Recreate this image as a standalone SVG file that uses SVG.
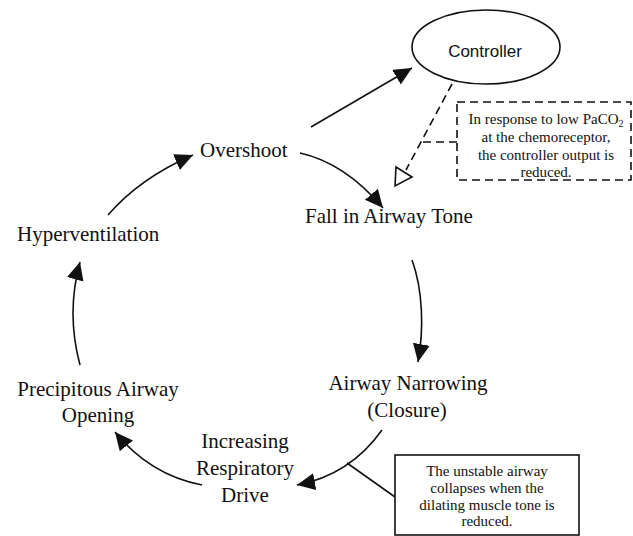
<svg xmlns="http://www.w3.org/2000/svg" width="633" height="536" viewBox="0 0 633 536">
<style>
.lbl{font-family:"Liberation Serif","Times New Roman",serif;font-size:21px;fill:#111}
.sm{font-family:"Liberation Serif","Times New Roman",serif;font-size:15px;fill:#111;text-anchor:middle}
.ln{fill:none;stroke:#111;stroke-width:1.6}
.dash{fill:none;stroke:#111;stroke-width:1.6;stroke-dasharray:8 5}
</style>
<defs>
<marker id="ah" markerUnits="userSpaceOnUse" markerWidth="20" markerHeight="20" refX="18" refY="8.5" orient="auto">
<path d="M0,0 L18,8.5 L0,17 Z" fill="#111"/>
</marker>
</defs>
<rect width="633" height="536" fill="#fff"/>
<g id="connectors">
<path class="ln" d="M108,215 Q140,178 193,155" marker-end="url(#ah)"/>
<path class="ln" d="M311,127 L412,68" marker-end="url(#ah)"/>
<path class="ln" d="M300,153 Q345,163 383,208" marker-end="url(#ah)"/>
<path class="ln" d="M412,260 C423,290 424,330 418,362" marker-end="url(#ah)"/>
<path class="ln" d="M382,430 Q350,475 297,485" marker-end="url(#ah)"/>
<path class="ln" d="M202,485 Q150,475 115,432" marker-end="url(#ah)"/>
<path class="ln" d="M80,365 Q66,313 80,262" marker-end="url(#ah)"/>
<path class="dash" d="M452,84 L406,170"/>
<polygon points="396,167 412,177 395,186" fill="#fff" stroke="#111" stroke-width="1.6"/>
<path class="dash" d="M423,142 L457,142"/>
<path class="ln" d="M347,463 L395,497"/>
</g>
<g id="controller">
<ellipse cx="486" cy="47" rx="74" ry="37" fill="#fff" stroke="#111" stroke-width="1.6"/>
<text x="485" y="57" font-family="Liberation Sans, Arial, sans-serif" font-size="17" fill="#111" text-anchor="middle">Controller</text>
</g>
<g id="note-controller">
<rect class="dash" x="457" y="102" width="174" height="78"/>
<text class="sm" x="546" y="124">In response to low PaCO<tspan font-size="10" dy="3">2</tspan></text>
<text class="sm" x="546" y="142">at the chemoreceptor,</text>
<text class="sm" x="546" y="160">the controller output is</text>
<text class="sm" x="546" y="177">reduced.</text>
</g>
<g id="overshoot"><text class="lbl" x="200" y="157">Overshoot</text></g>
<g id="hyperventilation"><text class="lbl" x="17" y="241">Hyperventilation</text></g>
<g id="fall"><text class="lbl" x="305" y="223">Fall in Airway Tone</text></g>
<g id="narrowing">
<text class="lbl" x="408" y="390" text-anchor="middle">Airway Narrowing</text>
<text class="lbl" x="407" y="417" text-anchor="middle" font-size="18">(Closure)</text>
</g>
<g id="precipitous">
<text class="lbl" x="98" y="396" text-anchor="middle">Precipitous Airway</text>
<text class="lbl" x="98" y="422" text-anchor="middle">Opening</text>
</g>
<g id="drive">
<text class="lbl" x="245" y="448" text-anchor="middle">Increasing</text>
<text class="lbl" x="245" y="475" text-anchor="middle">Respiratory</text>
<text class="lbl" x="245" y="502" text-anchor="middle">Drive</text>
</g>
<g id="note-airway">
<rect x="395" y="455" width="184" height="80" fill="#fff" stroke="#111" stroke-width="1.6"/>
<text class="sm" x="487" y="476">The unstable airway</text>
<text class="sm" x="487" y="493">collapses when the</text>
<text class="sm" x="487" y="510">dilating muscle tone is</text>
<text class="sm" x="487" y="526">reduced.</text>
</g>
</svg>
